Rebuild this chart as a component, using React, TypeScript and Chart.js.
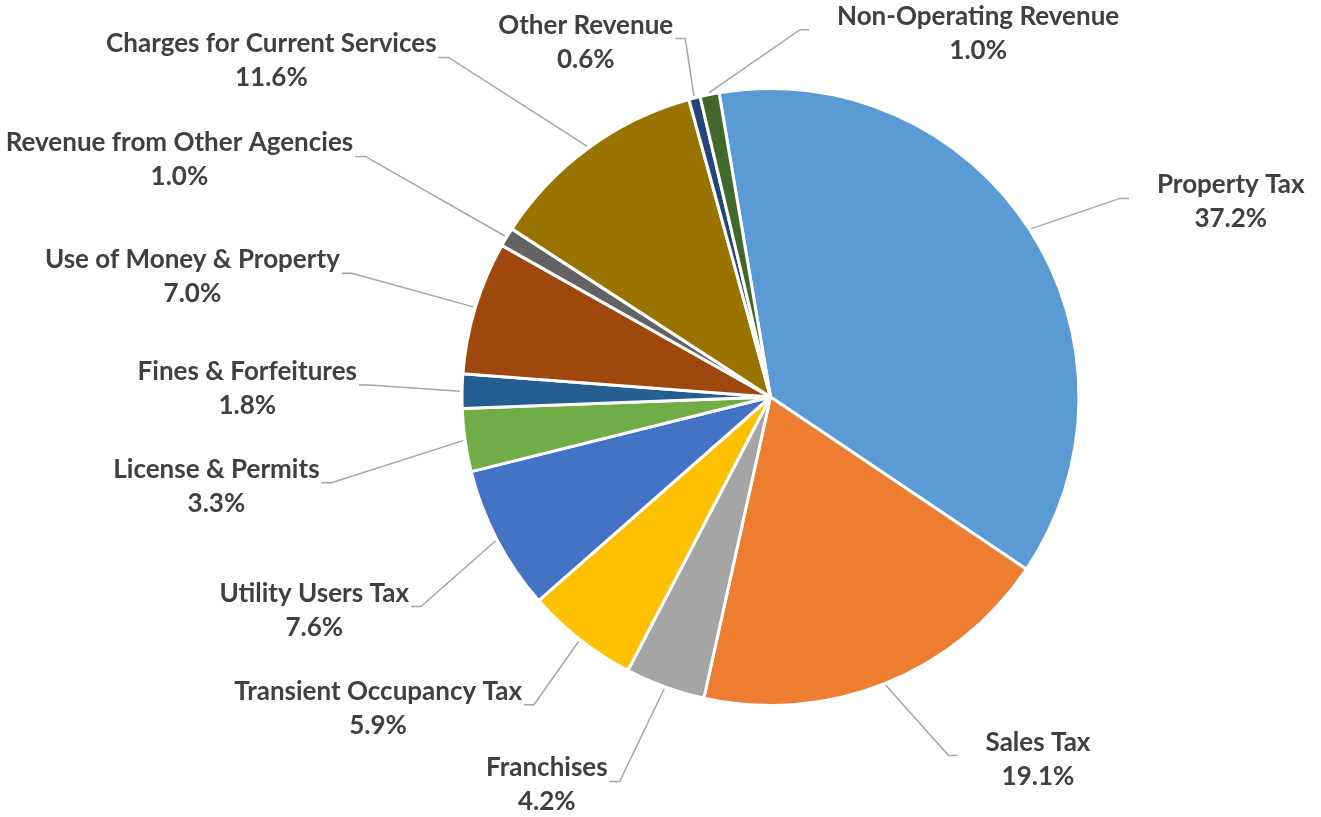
import React, { useEffect, useRef } from "react";
import { Chart, registerables } from "chart.js";

Chart.register(...registerables);

const categories = [
  "Property Tax",
  "Sales Tax",
  "Franchises",
  "Transient Occupancy Tax",
  "Utility Users Tax",
  "License & Permits",
  "Fines & Forfeitures",
  "Use of Money & Property",
  "Revenue from Other Agencies",
  "Charges for Current Services",
  "Other Revenue",
  "Non-Operating Revenue",
];

const shares = [37.2, 19.1, 4.2, 5.9, 7.6, 3.3, 1.8, 7.0, 1.0, 11.6, 0.6, 1.0];

const colors = [
  "#5B9BD5",
  "#ED7D31",
  "#A5A5A5",
  "#FFC000",
  "#4472C4",
  "#70AD47",
  "#255E91",
  "#9E480E",
  "#636363",
  "#997300",
  "#264478",
  "#43682B",
];

// label placement relative to pie centre, in units of the radius (text centre x, first baseline y)
const labelLayout: [number, number][] = [
  [1.492, -0.66],
  [0.867, 1.146],
  [-0.725, 1.23],
  [-1.272, 0.981],
  [-1.479, 0.663],
  [-1.796, 0.262],
  [-1.696, -0.055],
  [-1.874, -0.417],
  [-1.916, -0.796],
  [-1.618, -1.117],
  [-0.599, -1.178],
  [0.673, -1.207],
];

const FONT = "bold 26px Lato";
const TEXT_COLOR = "#404040";
const LINE_COLOR = "#A6A6A6";

const outLabels = {
  id: "outLabels",
  afterDatasetsDraw(chart: any) {
    const ctx = chart.ctx as CanvasRenderingContext2D;
    const meta = chart.getDatasetMeta(0);
    ctx.save();
    ctx.font = FONT;
    meta.data.forEach((arc: any, i: number) => {
      const p = arc.getProps(["x", "y", "startAngle", "endAngle", "outerRadius"], true);
      const mid = (p.startAngle + p.endAngle) / 2;
      const ax = p.x + Math.cos(mid) * (p.outerRadius + 2);
      const ay = p.y + Math.sin(mid) * (p.outerRadius + 2);
      const [fx, fy] = labelLayout[i];
      const cx = p.x + fx * p.outerRadius;
      const by = p.y + fy * p.outerRadius;
      const l1 = categories[i];
      const l2 = shares[i].toFixed(1) + "%";
      const w = Math.max(ctx.measureText(l1).width, ctx.measureText(l2).width);
      const sy = by + 5;
      let stubEnd: number, elbow: number;
      if (cx < ax) {
        stubEnd = cx + w / 2 + 2;
        elbow = stubEnd + 10;
      } else {
        stubEnd = cx - w / 2 - 28;
        elbow = stubEnd - 9;
      }
      ctx.strokeStyle = LINE_COLOR;
      ctx.lineWidth = 1.5;
      ctx.beginPath();
      ctx.moveTo(ax, ay);
      ctx.lineTo(elbow, sy);
      ctx.lineTo(stubEnd, sy);
      ctx.stroke();
      ctx.fillStyle = TEXT_COLOR;
      ctx.textAlign = "center";
      ctx.textBaseline = "alphabetic";
      ctx.fillText(l1, cx, by);
      ctx.fillText(l2, cx, by + 34);
    });
    ctx.restore();
  },
};

export default function App() {
  const ref = useRef<HTMLCanvasElement | null>(null);
  useEffect(() => {
    document.body.style.margin = "0";
    if (!ref.current) return;
    const chart = new Chart(ref.current, {
      type: "pie",
      data: {
        labels: categories,
        datasets: [
          {
            data: shares,
            backgroundColor: colors,
            borderColor: "#FFFFFF",
            borderWidth: 3,
          },
        ],
      },
      options: {
        responsive: false,
        animation: false,
        rotation: -9.6,
        layout: { padding: { left: 460, right: 240, top: 87, bottom: 110 } },
        plugins: {
          legend: { display: false },
          tooltip: { enabled: false },
        },
      },
      plugins: [outLabels],
    });
    return () => chart.destroy();
  }, []);
  return (
    <div style={{ width: 1321, height: 817, background: "#FFFFFF" }}>
      <canvas ref={ref} width={1321} height={817} />
    </div>
  );
}
